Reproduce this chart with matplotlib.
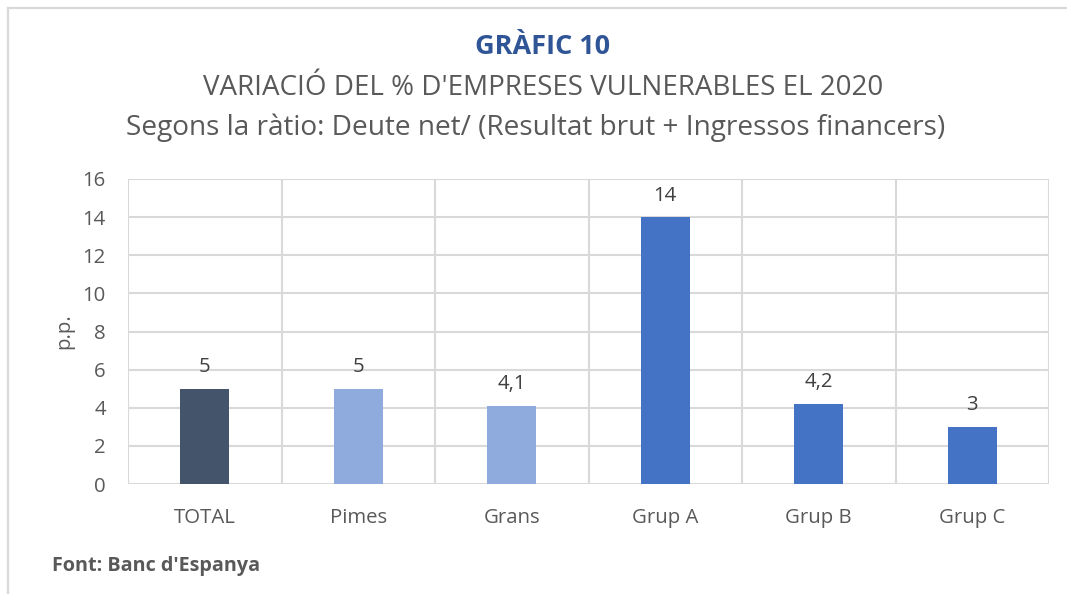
import matplotlib
matplotlib.use("Agg")
import matplotlib.pyplot as plt
from matplotlib.lines import Line2D

categories = ["TOTAL", "Pimes", "Grans", "Grup A", "Grup B", "Grup C"]
values = [5, 5, 4.1, 14, 4.2, 3]
value_labels = ["5", "5", "4,1", "14", "4,2", "3"]
bar_colors = ["#44546A", "#8FAADC", "#8FAADC", "#4472C4", "#4472C4", "#4472C4"]
yticks = [0, 2, 4, 6, 8, 10, 12, 14, 16]

plt.rcParams['font.family'] = ['Open Sans', 'DejaVu Sans']

W, H = 1067, 594
fig = plt.figure(figsize=(W / 100, H / 100), dpi=100)
fig.patch.set_facecolor("white")

# Outer border (top and left)
fig.add_artist(Line2D([8 / W, 1.0], [1 - 8 / H, 1 - 8 / H], color="#D9D9D9", lw=1.6, transform=fig.transFigure))
fig.add_artist(Line2D([8 / W, 8 / W], [0, 1 - 8 / H], color="#D9D9D9", lw=1.6, transform=fig.transFigure))

left, right, top, bottom = 128, 1049, 179, 484
ax = fig.add_axes([left / W, 1 - bottom / H, (right - left) / W, (bottom - top) / H])

x = list(range(len(categories)))
ax.bar(x, values, width=0.32, color=bar_colors, zorder=3)
for xi, v, lab in zip(x, values, value_labels):
    ax.text(xi, v + 0.6, lab, ha="center", va="bottom", fontsize=14.7, color="#404040", zorder=4)

ax.set_xlim(-0.5, len(categories) - 0.5)
ax.set_ylim(0, 16)
ax.set_yticks(yticks)
ax.set_yticklabels([str(t) for t in yticks], fontsize=14.7, color="#595959")
ax.set_xticks(x)
ax.set_xticklabels(categories, fontsize=14.7, color="#595959")
ax.tick_params(axis="both", length=0)
ax.tick_params(axis="y", pad=16)
ax.tick_params(axis="x", pad=17)

grid_c = "#D9D9D9"
for t in yticks:
    ax.axhline(t, color=grid_c, lw=1.5, zorder=1)
for b in [i - 0.5 for i in range(len(categories) + 1)]:
    ax.axvline(b, color=grid_c, lw=1.5, zorder=1)
for s in ax.spines.values():
    s.set_visible(False)

ax.set_ylabel("p.p.", fontsize=14.7, color="#595959", labelpad=6)

fig.text(543 / W, 1 - 47 / H, "GRÀFIC 10", ha="center", va="center", fontsize=19.5, fontweight="bold", color="#2F5597")
fig.text(543 / W, 1 - 88 / H, "VARIACIÓ DEL % D'EMPRESES VULNERABLES EL 2020", ha="center", va="center", fontsize=20, color="#595959")
fig.text(536 / W, 1 - 128 / H, "Segons la ràtio: Deute net/ (Resultat brut + Ingressos financers)", ha="center", va="center", fontsize=20.2, color="#595959")
fig.text(52 / W, 1 - 566 / H, "Font: Banc d'Espanya", ha="left", va="center", fontsize=14.2, fontweight="bold", color="#595959")

fig.savefig("out.png", dpi=100, facecolor="white")
